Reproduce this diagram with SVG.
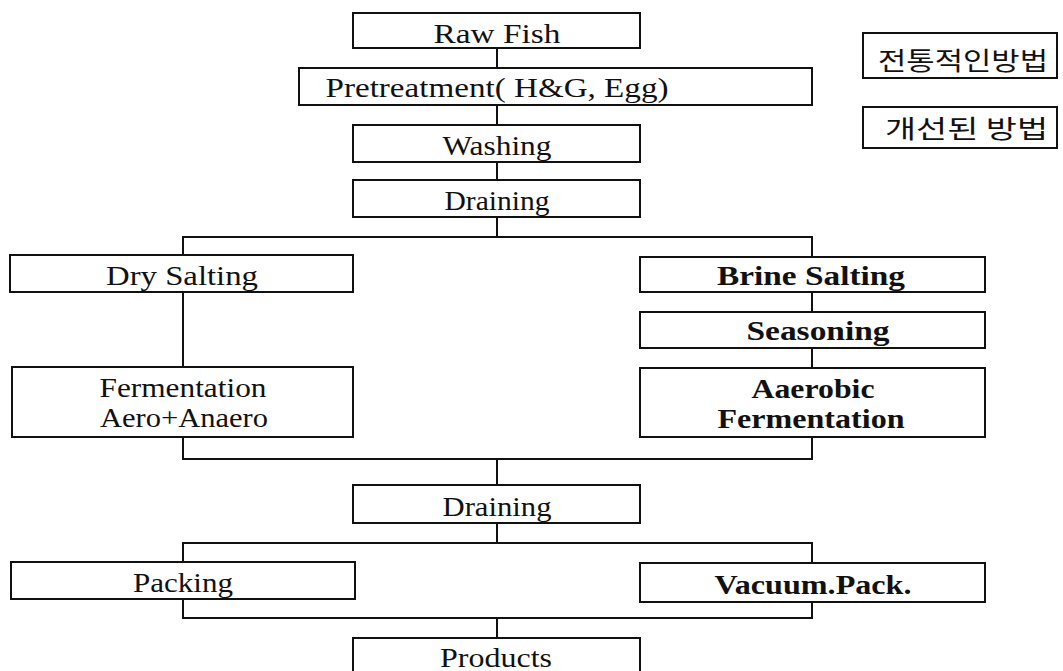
<svg xmlns="http://www.w3.org/2000/svg" width="1063" height="671" viewBox="0 0 1063 671">
<style>
.box{fill:#fff;stroke:#111;stroke-width:2}
.con{fill:none;stroke:#111;stroke-width:2}
.t{font-family:"Liberation Serif","DejaVu Serif",serif;font-size:27px;fill:#111;text-anchor:middle}
.b{font-weight:bold}
.k{font-family:"Noto Sans CJK KR",sans-serif;font-size:25px;fill:#111}
</style>
<rect width="1063" height="671" fill="#fff"/>
<g id="connectors">
<path class="con" d="M497 48V68M497 105V125M497 162V180M497 217V237"/>
<path class="con" d="M183 255V237H812V257"/>
<path class="con" d="M183 292V367"/>
<path class="con" d="M812 292V312M812 348V368"/>
<path class="con" d="M183 437V459H812V437M497 459V485"/>
<path class="con" d="M497 523V543M183 562V543H812V563"/>
<path class="con" d="M183 599V618H812V602M497 618V638"/>
</g>
<g id="raw-fish"><rect class="box" x="353" y="13" width="287" height="35"/><text class="t" x="497" y="43" textLength="127" lengthAdjust="spacingAndGlyphs">Raw Fish</text></g>
<g id="pretreatment"><rect class="box" x="299" y="68" width="513" height="37"/><text class="t" x="497" y="97" textLength="343" lengthAdjust="spacingAndGlyphs">Pretreatment( H&amp;G, Egg)</text></g>
<g id="washing"><rect class="box" x="353" y="125" width="287" height="37"/><text class="t" x="497" y="155" textLength="109" lengthAdjust="spacingAndGlyphs">Washing</text></g>
<g id="draining1"><rect class="box" x="353" y="180" width="287" height="37"/><text class="t" x="497" y="210" textLength="105" lengthAdjust="spacingAndGlyphs">Draining</text></g>
<g id="dry-salting"><rect class="box" x="10" y="255" width="343" height="37"/><text class="t" x="182" y="285" textLength="152" lengthAdjust="spacingAndGlyphs">Dry  Salting</text></g>
<g id="fermentation-trad"><rect class="box" x="12" y="367" width="341" height="70"/><text class="t" x="183" y="397" textLength="167" lengthAdjust="spacingAndGlyphs">Fermentation</text><text class="t" x="184" y="427" textLength="168" lengthAdjust="spacingAndGlyphs">Aero+Anaero</text></g>
<g id="brine-salting"><rect class="box" x="640" y="257" width="345" height="35"/><text class="t b" x="811" y="285" textLength="188" lengthAdjust="spacingAndGlyphs">Brine  Salting</text></g>
<g id="seasoning"><rect class="box" x="640" y="312" width="345" height="36"/><text class="t b" x="818" y="340" textLength="143" lengthAdjust="spacingAndGlyphs">Seasoning</text></g>
<g id="aerobic-fermentation"><rect class="box" x="640" y="368" width="345" height="69"/><text class="t b" x="813" y="398" textLength="123" lengthAdjust="spacingAndGlyphs">Aaerobic</text><text class="t b" x="811" y="428" textLength="187" lengthAdjust="spacingAndGlyphs">Fermentation</text></g>
<g id="draining2"><rect class="box" x="353" y="485" width="287" height="38"/><text class="t" x="497" y="516" textLength="109" lengthAdjust="spacingAndGlyphs">Draining</text></g>
<g id="packing"><rect class="box" x="11" y="562" width="344" height="37"/><text class="t" x="183" y="592" textLength="100" lengthAdjust="spacingAndGlyphs">Packing</text></g>
<g id="vacuum-pack"><rect class="box" x="640" y="563" width="345" height="39"/><text class="t b" x="813" y="594" textLength="197" lengthAdjust="spacingAndGlyphs">Vacuum.Pack.</text></g>
<g id="products"><rect class="box" x="353" y="638" width="287" height="40"/><text class="t" x="496" y="667" textLength="112" lengthAdjust="spacingAndGlyphs">Products</text></g>
<g id="legend-traditional"><rect class="box" x="863" y="33" width="194" height="45"/><text class="k" x="878" y="70" textLength="170" lengthAdjust="spacingAndGlyphs">전통적인방법</text></g>
<g id="legend-improved"><rect class="box" x="863" y="107" width="194" height="41"/><text class="k" x="885" y="138" textLength="163" lengthAdjust="spacingAndGlyphs">개선된 방법</text></g>
</svg>
